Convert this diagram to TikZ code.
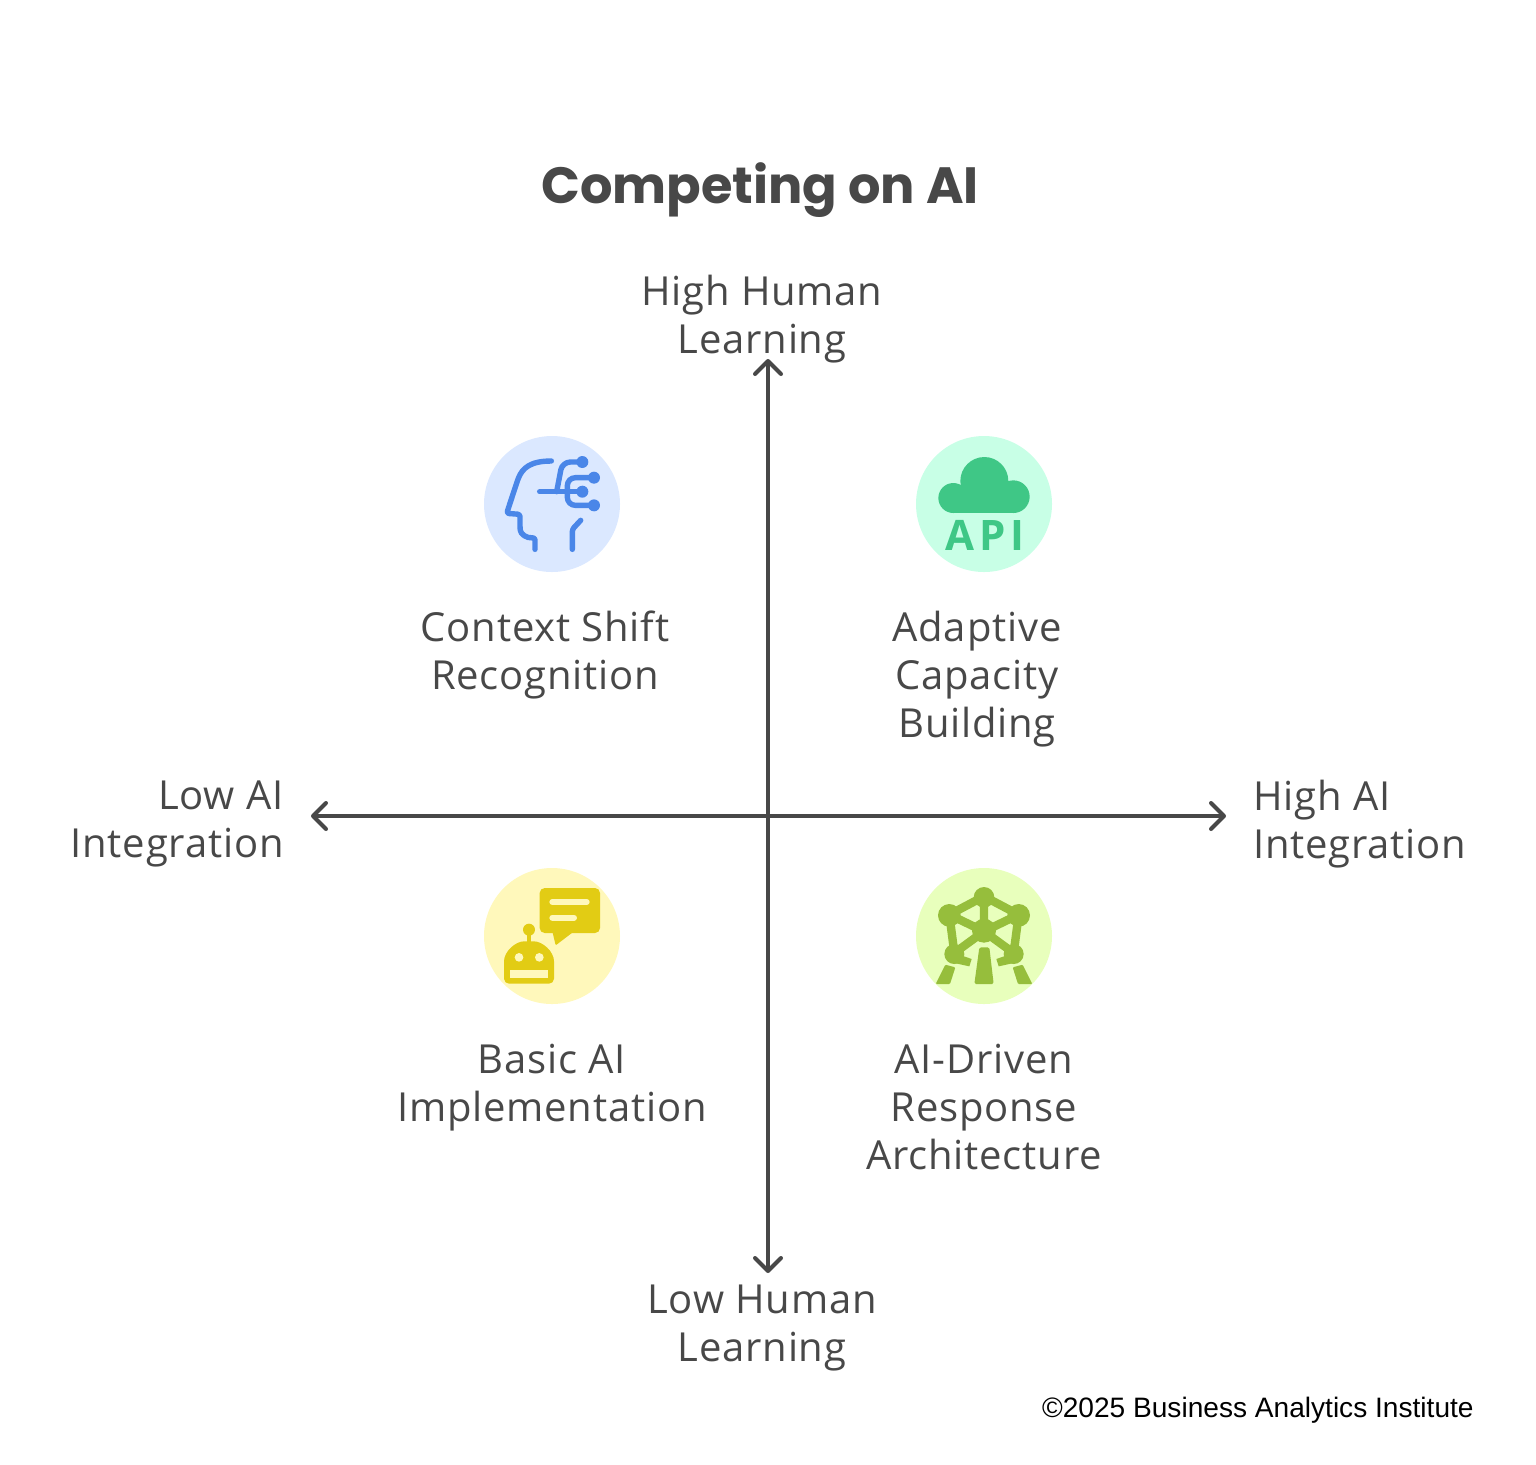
\documentclass[tikz,border=0pt]{standalone}
\usepackage{fontspec}
\setmainfont{Open Sans}[LetterSpace=2,Ligatures=NoCommon]
\newfontfamily\creditfont{Liberation Sans}
\newfontfamily\titlefont{Poppins}
\usetikzlibrary{arrows.meta}
\definecolor{Ink}{HTML}{484848}
\definecolor{ShiftBlue}{HTML}{4A86E8}
\definecolor{ShiftSoft}{HTML}{DBE8FF}
\definecolor{CloudGreen}{HTML}{3FC786}
\definecolor{CloudSoft}{HTML}{C8FFE6}
\definecolor{BotYellow}{HTML}{E2CC14}
\definecolor{BotSoft}{HTML}{FFF8BB}
\definecolor{AtomGreen}{HTML}{96BE3C}
\definecolor{AtomSoft}{HTML}{E8FFBC}
\begin{document}
\begin{tikzpicture}[
  x=0.5pt,y=-0.5pt,
  blob/.style={circle,minimum size=68pt,inner sep=0pt},
  label/.style={text=Ink,font=\fontsize{20}{24}\selectfont,align=center},
  arr/.style={{Straight Barb[length=6.5pt,width=13pt,round]}-{Straight Barb[length=6.5pt,width=13pt,round]},draw=Ink,line width=2pt},
  icon/.style={x=0.16667pt,y=-0.16667pt},
  wire/.style={draw=ShiftBlue,line width=2.7pt,line cap=round,line join=round,rounded corners=1.2pt}
]
\useasboundingbox (0,0) rectangle (1536,1464);
\node[text=Ink,font=\fontsize{25.5}{28}\selectfont\titlefont\bfseries] (title) at (760,190) {Competing on AI};

\node[blob,fill=ShiftSoft] (shiftblob) at (552,504) {};
\node[blob,fill=CloudSoft] (cloudblob) at (984,504) {};
\node[blob,fill=BotSoft] (botblob) at (552,936) {};
\node[blob,fill=AtomSoft] (atomblob) at (984,936) {};

\coordinate (west) at (311,816);
\coordinate (east) at (1226,816);
\coordinate (north) at (768,359);
\coordinate (south) at (768,1273);
\draw[arr] (west) -- (east);
\draw[arr] (north) -- (south);

\node[label] (highhuman) at (762,319) {High Human\\Learning};
\node[label] (lowhuman) at (762,1328) {Low Human\\Learning};
\node[label,align=right,anchor=east,inner sep=0pt] (lowai) at (284,824) {Low AI\\Integration};
\node[label,align=left,anchor=west,inner sep=0pt] (highai) at (1253,824) {High AI\\Integration};
\node[label] (shift) at (545,655) {Context Shift\\Recognition};
\node[label] (adaptive) at (977,679) {Adaptive\\Capacity\\Building};
\node[label] (basic) at (552,1088) {Basic AI\\Implementation};
\node[label] (driven) at (984,1107) {AI-Driven\\Response\\Architecture};
\node[anchor=east,font=\fontsize{14.05}{17}\selectfont\creditfont,inner sep=0pt] (credit) at (1474,1410) {©2025 Business Analytics Institute};

\begin{scope}[shift={(474,426)},icon]
  \draw[wire] (232,105) .. controls (170,105) and (145,125) .. (130,165) -- (98,262) -- (138,265) -- (138,305) .. controls (140,325) and (158,337) .. (183,335) -- (183,370);
  \draw[wire] (320,283) -- (295,310) -- (295,370);
  \draw[wire] (197,197) -- (325,197);
  \draw[wire,rounded corners=4pt] (248,197) -- (265,108) -- (325,108);
  \draw[wire,rounded corners=4pt] (360,155) -- (280,155) -- (280,238) -- (360,238);
  \fill[ShiftBlue] (325,108) circle (18);
  \fill[ShiftBlue] (360,155) circle (18);
  \fill[ShiftBlue] (325,197) circle (18);
  \fill[ShiftBlue] (360,238) circle (18);
\end{scope}

\begin{scope}[shift={(906,426)},icon]
  \fill[CloudGreen] (235,165) circle (72);
  \fill[CloudGreen] (322,212) circle (49);
  \fill[CloudGreen] (142,216) circle (45);
  \fill[CloudGreen] (142,190) rectangle (325,261);
\end{scope}
\node[text=CloudGreen,font=\fontsize{21}{22}\selectfont\addfontfeature{LetterSpace=11}\bfseries,inner sep=0pt] (api) at (985,535) {API};

\begin{scope}[shift={(474,858)},icon]
  \fill[BotYellow,rounded corners=2.5pt] (197,90) rectangle (378,225);
  \fill[BotYellow,rounded corners=0.5pt] (235,220) -- (245,262) -- (300,220) -- cycle;
  \draw[BotSoft,line width=3pt,line cap=round] (235,132) -- (338,132) (235,179) -- (300,179);
  \fill[BotYellow] (165,215) circle (18);
  \fill[BotYellow] (158,215) rectangle (172,260);
  \fill[BotYellow,rounded corners=2.5pt] (90,377) -- (90,325) .. controls (90,280) and (125,250) .. (165,250) .. controls (205,250) and (240,280) .. (240,325) -- (240,377) -- cycle;
  \fill[BotSoft] (135,298) circle (13);
  \fill[BotSoft] (196,298) circle (13);
  \fill[BotSoft] (107,335) rectangle (223,360);
\end{scope}

\begin{scope}[shift={(906,858)},icon]
  \draw[AtomGreen,line width=4.2pt,line cap=round,line join=round] (234,115) -- (234,220) (234,115) -- (130,170) (234,115) -- (338,170)
    (130,170) -- (234,220) -- (338,170) (130,170) -- (145,285) -- (234,220) -- (323,285) -- (338,170);
  \fill[AtomGreen] (234,118) circle (31);
  \fill[AtomGreen] (130,172) circle (34);
  \fill[AtomGreen] (338,172) circle (34);
  \fill[AtomGreen] (234,218) circle (36);
  \fill[AtomGreen] (145,288) circle (30);
  \fill[AtomGreen] (323,288) circle (30);
  \fill[AtomGreen] (160,290) -- (197,303) -- (190,325) -- (145,315) -- cycle;
  \fill[AtomGreen] (308,290) -- (271,303) -- (278,325) -- (323,315) -- cycle;
  \fill[AtomGreen,rounded corners=0.8pt] (220,268) -- (250,268) -- (263,378) -- (205,378) -- cycle;
  \fill[AtomGreen,rounded corners=0.5pt] (118,320) -- (148,328) -- (132,378) -- (89,378) -- cycle;
  \fill[AtomGreen,rounded corners=0.5pt] (350,320) -- (320,328) -- (336,378) -- (379,378) -- cycle;
\end{scope}
\end{tikzpicture}
\end{document}
